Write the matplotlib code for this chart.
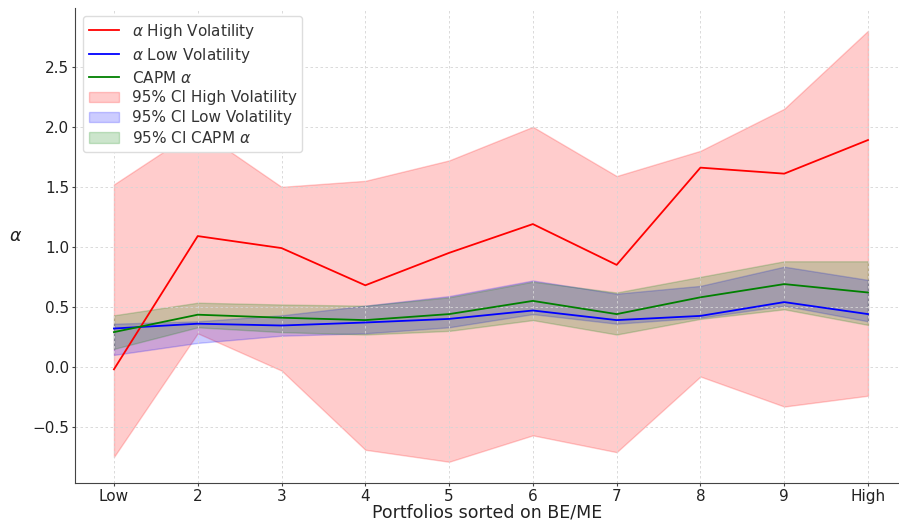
import matplotlib.pyplot as plt
import numpy as np

portfolios = ["Low", "2", "3", "4", "5", "6", "7", "8", "9", "High"]

alpha_high = [-0.02, 1.09, 0.99, 0.68, 0.95, 1.19, 0.85, 1.66, 1.61, 1.89]
ci_high_lower = [-0.75, 0.28, -0.03, -0.69, -0.79, -0.57, -0.71, -0.08, -0.33, -0.24]
ci_high_upper = [1.52, 1.98, 1.50, 1.55, 1.72, 2.00, 1.59, 1.80, 2.15, 2.80]

alpha_low = [0.32, 0.36, 0.345, 0.37, 0.40, 0.47, 0.39, 0.425, 0.54, 0.44]
ci_low_lower = [0.10, 0.20, 0.26, 0.28, 0.33, 0.44, 0.36, 0.41, 0.51, 0.38]
ci_low_upper = [0.36, 0.38, 0.43, 0.51, 0.59, 0.72, 0.61, 0.675, 0.835, 0.725]

capm_alpha = [0.29, 0.435, 0.41, 0.39, 0.44, 0.55, 0.44, 0.58, 0.69, 0.62]
ci_capm_lower = [0.15, 0.33, 0.29, 0.27, 0.30, 0.39, 0.27, 0.40, 0.48, 0.35]
ci_capm_upper = [0.43, 0.535, 0.52, 0.51, 0.58, 0.71, 0.62, 0.75, 0.88, 0.88]

x = np.arange(len(portfolios))

fig = plt.figure(figsize=(8.99, 5.22), dpi=100)
ax = fig.add_axes([0.0834, 0.0747, 0.9166, 0.91])

ax.plot(x, alpha_high, color="red", lw=1.3, label=r"$\alpha$ High Volatility")
ax.plot(x, alpha_low, color="blue", lw=1.3, label=r"$\alpha$ Low Volatility")
ax.plot(x, capm_alpha, color="green", lw=1.3, label=r"CAPM $\alpha$")
ax.fill_between(x, ci_high_lower, ci_high_upper, color="red", alpha=0.2,
                label="95% CI High Volatility")
ax.fill_between(x, ci_low_lower, ci_low_upper, color="blue", alpha=0.2,
                label="95% CI Low Volatility")
ax.fill_between(x, ci_capm_lower, ci_capm_upper, color="green", alpha=0.2,
                label=r"95% CI CAPM $\alpha$")

ax.set_xticks(x)
ax.set_xticklabels(portfolios)
ax.set_xlim(-0.465, 9.37)
ax.set_ylim(-0.967, 2.99)

ax.set_xlabel("Portfolios sorted on BE/ME", fontsize=12.5, color="#222222", labelpad=0)
ax.set_ylabel(r"$\alpha$", fontsize=12.5, rotation=0, labelpad=12, color="#222222")

ax.grid(True, linestyle=(0, (3, 3)), color="#d5d5d5", lw=0.6)
for side in ["top", "right"]:
    ax.spines[side].set_visible(False)
for side in ["left", "bottom"]:
    ax.spines[side].set_color("#444444")
ax.tick_params(labelsize=11, colors="#222222", length=2, pad=2, color="#444444")

leg = ax.legend(loc="upper left", fontsize=11, framealpha=1, edgecolor="#dddddd",
                labelspacing=0.32)
for t in leg.get_texts():
    t.set_color("#333333")

fig.savefig("out.png", dpi=100)
